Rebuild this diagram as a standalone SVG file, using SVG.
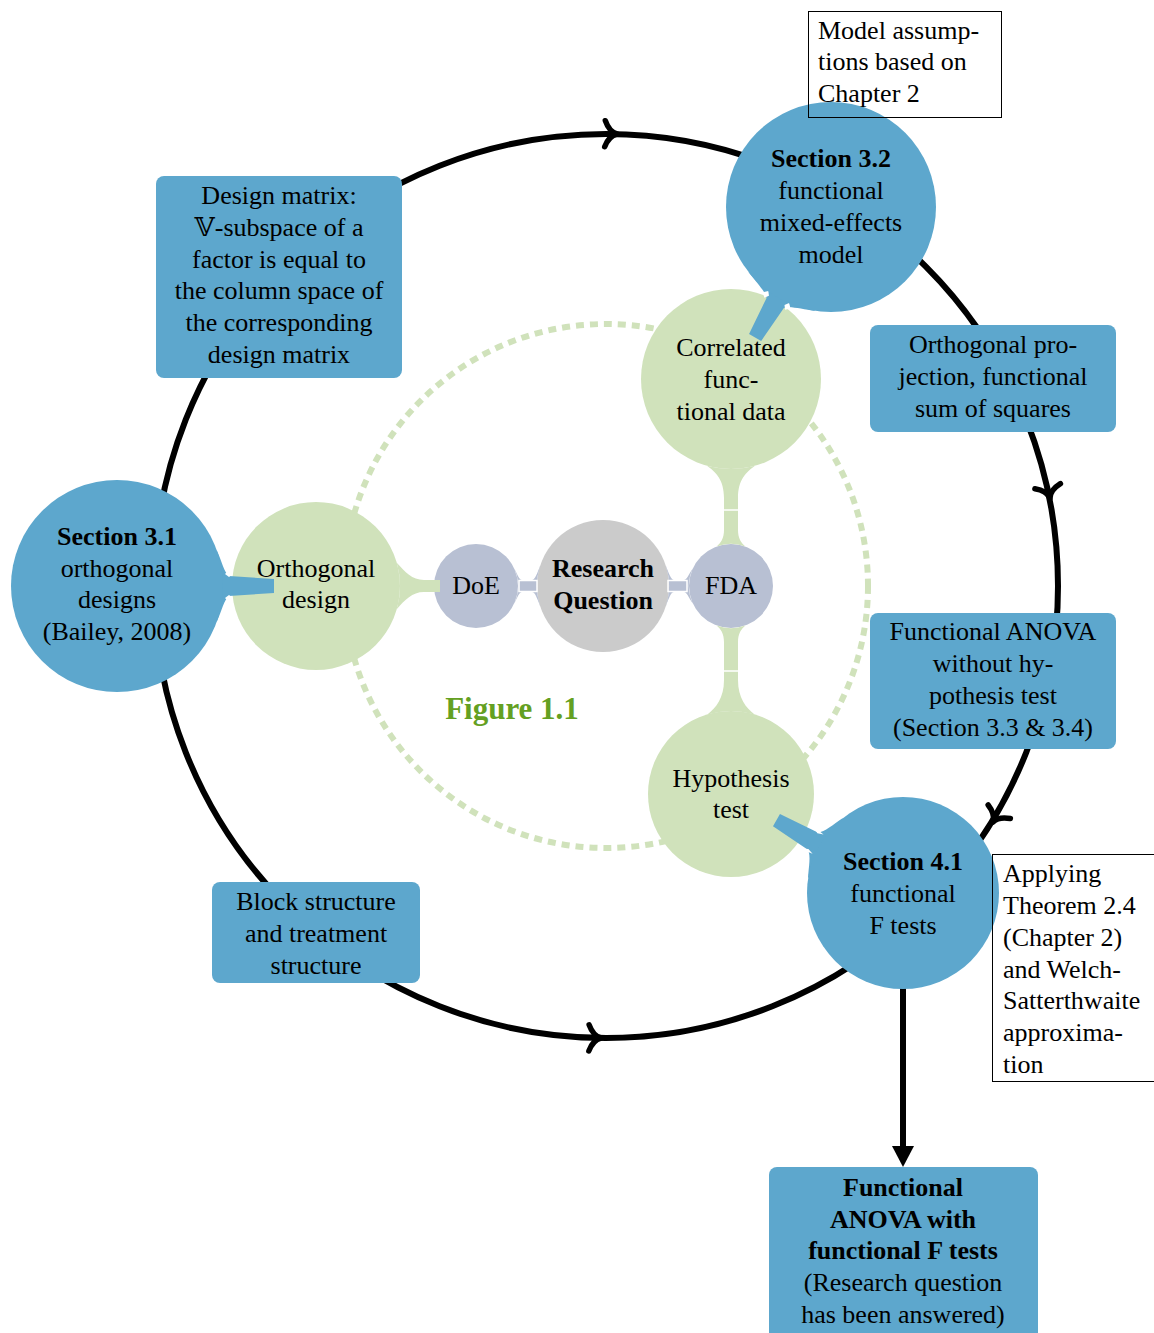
<svg xmlns="http://www.w3.org/2000/svg" width="1154" height="1333" viewBox="0 0 1154 1333">
<style>
text { font-family: "Liberation Serif", "DejaVu Serif", serif; font-size: 26px; fill: #000; text-anchor: middle; }
.l { text-anchor: start; }
.b { font-weight: bold; }
.blue { fill: #5da7cd; }
.green { fill: #d0e2bb; }
.gb { fill: #b8c0d3; }
.gray { fill: #cbcbcb; }
.ring { fill: none; stroke: #000; stroke-width: 6; }
.chev { fill: none; stroke: #000; stroke-width: 5.5; stroke-linecap: round; stroke-linejoin: round; }
.note { fill: none; stroke: #000; stroke-width: 1; }
.slit { stroke: #fff; stroke-width: 1.5; fill: none; }
.notch { fill: #fff; }
.fig { fill: #64a022; font-size: 31px; font-weight: bold; }
</style>
<defs>
<path id="chev" class="chev" d="M-12,-13 C-9,-5 -4,-1 0,0 C-4,1 -9,5 -12,13"/>
</defs>
<rect width="1154" height="1333" fill="#fff"/>

<g id="inner-ring">
<circle cx="606" cy="586" r="262" fill="none" stroke="#d0e2bb" stroke-width="6" stroke-dasharray="8 6"/>
</g>

<g id="connectors-cycle">
<circle class="ring" cx="606" cy="586" r="452"/>
<use href="#chev" transform="translate(617,134) rotate(1.4)"/>
<use href="#chev" transform="translate(1050,498) rotate(78.8)"/>
<use href="#chev" transform="translate(993,822) rotate(121.4)"/>
<use href="#chev" transform="translate(601,1038) rotate(0.6)"/>
<line x1="903" y1="985" x2="903" y2="1150" stroke="#000" stroke-width="6"/>
<polygon points="892,1146 914,1146 903,1167" fill="#000"/>
</g>

<g id="box-design-matrix">
<rect class="blue" x="156" y="176" width="246" height="202" rx="8"/>
<text x="279" y="204">Design matrix:</text>
<text x="279" y="236">𝕍-subspace of a</text>
<text x="279" y="268">factor is equal to</text>
<text x="279" y="299">the column space of</text>
<text x="279" y="331">the corresponding</text>
<text x="279" y="363">design matrix</text>
</g>
<g id="box-orth-projection">
<rect class="blue" x="870" y="325" width="246" height="107" rx="8"/>
<text x="993" y="353">Orthogonal pro-</text>
<text x="993" y="385">jection, functional</text>
<text x="993" y="417">sum of squares</text>
</g>
<g id="box-fanova-without">
<rect class="blue" x="870" y="613" width="246" height="136" rx="8"/>
<text x="993" y="640">Functional ANOVA</text>
<text x="993" y="672">without hy-</text>
<text x="993" y="704">pothesis test</text>
<text x="993" y="736">(Section 3.3 &amp; 3.4)</text>
</g>
<g id="box-block">
<rect class="blue" x="212" y="882" width="208" height="101" rx="8"/>
<text x="316" y="910">Block structure</text>
<text x="316" y="942">and treatment</text>
<text x="316" y="974">structure</text>
</g>
<g id="box-fanova-with">
<rect class="blue" x="769" y="1167" width="269" height="180" rx="8"/>
<text class="b" x="903" y="1196">Functional</text>
<text class="b" x="903" y="1228">ANOVA with</text>
<text class="b" x="903" y="1259">functional F tests</text>
<text x="903" y="1291">(Research question</text>
<text x="903" y="1323">has been answered)</text>
</g>

<g id="node-rq">
<circle class="gray" cx="603" cy="586" r="66"/>
<text class="b" x="603" y="577">Research</text>
<text class="b" x="603" y="609">Question</text>
</g>
<g id="node-doe">
<circle class="gb" cx="476" cy="586" r="42"/>
<text x="476" y="594">DoE</text>
</g>
<g id="node-fda">
<circle class="gb" cx="731" cy="586" r="42"/>
<text x="731" y="594">FDA</text>
</g>
<g id="node-orth-design">
<circle class="green" cx="316" cy="586" r="84"/>
<text x="316" y="577">Orthogonal</text>
<text x="316" y="608">design</text>
</g>
<g id="node-correlated">
<circle class="green" cx="731" cy="379" r="90"/>
<text x="731" y="356">Correlated</text>
<text x="731" y="388">func-</text>
<text x="731" y="420">tional data</text>
</g>
<g id="node-hypothesis">
<circle class="green" cx="731" cy="794" r="83"/>
<text x="731" y="787">Hypothesis</text>
<text x="731" y="818">test</text>
</g>

<g id="connectors-mindmap">
<path class="green" d="M396.75,562.85 C405,572 412,580 424,580 L440,580 L440,592 L424,592 C412,592 405,600 396.75,609.15 A84,84 0 0,0 396.75,562.85 Z"/>
<path class="gb" d="M514.07,568.25 C518,575 519,580 522,580 L532,580 C535,580 537,574 540.23,565.6 A66,66 0 0,0 540.23,606.4 C537,598 535,592 532,592 L522,592 C519,592 518,597 514.07,603.75 A42,42 0 0,0 514.07,568.25 Z"/>
<rect class="slit" x="519" y="580.5" width="18" height="11"/>
<path class="gb" d="M665.77,565.6 C669,574 671,580 674,580 L684,580 C687,580 688,575 692.93,568.25 A42,42 0 0,0 692.93,603.75 C688,597 687,592 684,592 L674,592 C671,592 669,598 665.77,606.4 A66,66 0 0,0 665.77,565.6 Z"/>
<rect class="slit" x="668" y="580.5" width="19" height="11"/>
<path class="green" d="M706.95,465.7 C716,472 724,480 724,498 L724,530 C724,538 721,543 716.6,546.5 A42,42 0 0,1 745.4,546.5 C741,543 738,538 738,530 L738,498 C738,480 746,472 755.05,465.7 A90,90 0 0,1 706.95,465.7 Z"/>
<line class="slit" x1="724" y1="510" x2="738" y2="510"/>
<path class="green" d="M716.6,625.5 C721,629 724,634 724,642 L724,680 C724,698 716,708 707.4,714.4 A83,83 0 0,1 754.6,714.4 C746,708 738,698 738,680 L738,642 C738,634 741,629 745.4,625.5 A42,42 0 0,1 716.6,625.5 Z"/>
<line class="slit" x1="724" y1="671" x2="738" y2="671"/>
<g transform="translate(117,586)">
<path class="blue" d="M99.5,-36.5 C105,-24 107,-14 112,-10 L157,-7 L157,7 L112,10 C107,14 105,24 99.5,36.5 Z"/>
<path class="notch" d="M108,-12 L112,-16 L116,-12 L112,-9 Z M108,12 L112,16 L116,12 L112,9 Z"/>
</g>
<g transform="translate(831,207) rotate(120.17)">
<path class="blue" d="M97.5,-39 C103,-26 106,-14 111,-10 L151,-7 L151,7 L111,10 C106,14 103,26 97.5,39 Z"/>
<path class="notch" d="M104,-12 L108,-16 L112,-12 L108,-9 Z M104,12 L108,16 L112,12 L108,9 Z"/>
</g>
<g transform="translate(903,893) rotate(209.93)">
<path class="blue" d="M89.5,-35 C95,-24 98,-14 104,-10 L146,-7 L146,7 L104,10 C98,14 95,24 89.5,35 Z"/>
<path class="notch" d="M98,-11 L112,-13 L104,-9 Z M98,11 L112,13 L104,9 Z"/>
</g>
</g>

<g id="node-sec31">
<circle class="blue" cx="117" cy="586" r="106"/>
<text class="b" x="117" y="545">Section 3.1</text>
<text x="117" y="577">orthogonal</text>
<text x="117" y="608">designs</text>
<text x="117" y="640">(Bailey, 2008)</text>
</g>
<g id="node-sec32">
<circle class="blue" cx="831" cy="207" r="105"/>
<text class="b" x="831" y="167">Section 3.2</text>
<text x="831" y="199">functional</text>
<text x="831" y="231">mixed-effects</text>
<text x="831" y="263">model</text>
</g>
<g id="node-sec41">
<circle class="blue" cx="903" cy="893" r="96"/>
<text class="b" x="903" y="870">Section 4.1</text>
<text x="903" y="902">functional</text>
<text x="903" y="934">F tests</text>
</g>

<g id="note-model">
<rect class="note" x="808.5" y="11.5" width="193" height="106"/>
<text class="l" x="818" y="39">Model assump-</text>
<text class="l" x="818" y="70">tions based on</text>
<text class="l" x="818" y="102">Chapter 2</text>
</g>
<g id="note-applying">
<rect class="note" x="992.5" y="854.5" width="170" height="227"/>
<text class="l" x="1003" y="882">Applying</text>
<text class="l" x="1003" y="914">Theorem 2.4</text>
<text class="l" x="1003" y="946">(Chapter 2)</text>
<text class="l" x="1003" y="978">and Welch-</text>
<text class="l" x="1003" y="1009">Satterthwaite</text>
<text class="l" x="1003" y="1041">approxima-</text>
<text class="l" x="1003" y="1073">tion</text>
</g>

<g id="label-figure">
<text class="fig" x="512" y="719">Figure 1.1</text>
</g>
</svg>
